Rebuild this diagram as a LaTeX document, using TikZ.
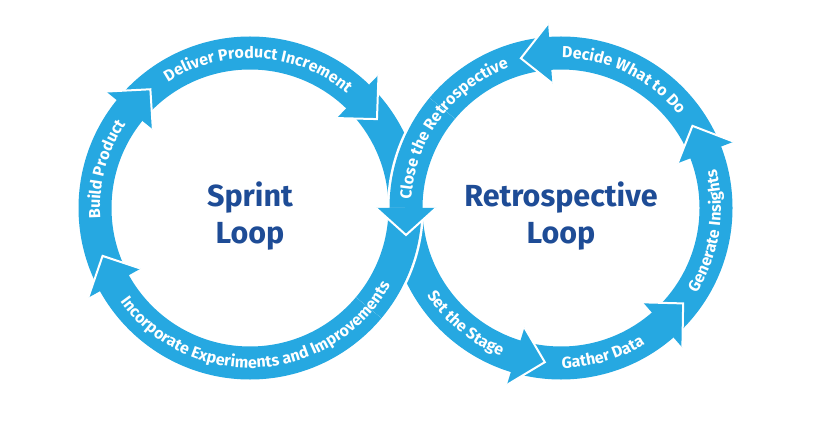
\documentclass[tikz,border=0pt]{standalone}
\usepackage{fontspec}
\setmainfont{Fira Sans}
\usetikzlibrary{decorations.text}
\definecolor{bandblue}{RGB}{38,168,225}
\definecolor{darkblue}{RGB}{30,76,150}
\newcommand\bandtext{\color{white}\bfseries\fontsize{16}{16}\selectfont}
\newcommand\myhead[2]{%
  \fill[bandblue] (#1:125) -- (#2:155) -- (#1:185) -- cycle;
  \draw[headedge] (#1:125) -- (#2:155) -- (#1:185);}
\begin{document}
\begin{tikzpicture}[x=1pt,y=1pt,
  band/.style={draw=bandblue, line width=33pt, line cap=butt},
  gapband/.style={draw=white, line width=38pt, line cap=butt},
  headedge/.style={draw=white, line width=2pt, line join=miter},
  looplabel/.style={text=darkblue, font=\bfseries\fontsize{30.5}{37}\selectfont, align=center, inner sep=0pt}]
\useasboundingbox (0,0) rectangle (826,442);
\fill[white] (0,0) rectangle (826,442);
% full rings
\begin{scope}[shift={(250,234)}]
  \draw[band] (0:155) arc[start angle=0, end angle=360, radius=155];
\end{scope}
\begin{scope}[shift={(561,234)}]
  \draw[band] (0:155) arc[start angle=0, end angle=360, radius=155];
\end{scope}
% over path at the crossing
\begin{scope}[shift={(561,234)}]
  \draw[gapband] (140:155) arc[start angle=140, end angle=180, radius=155];
  \draw[band] (140:155) arc[start angle=140, end angle=180, radius=155];
\end{scope}
\begin{scope}[shift={(250,234)}]
  \draw[gapband] (0:155) arc[start angle=0, end angle=-40, radius=155];
  \draw[band] (0:155) arc[start angle=0, end angle=-40, radius=155];
\end{scope}
% arrowheads, left loop (clockwise)
\begin{scope}[shift={(250,234)}]
  \myhead{209}{198}
  \myhead{141}{130}
  \myhead{46}{35}
\end{scope}
% arrowheads, right loop (counter-clockwise)
\begin{scope}[shift={(561,234)}]
  \myhead{253}{264}
  \myhead{311}{322}
  \myhead{21}{32}
  \myhead{94}{105}
  \fill[bandblue] (180:125) -- (-155,-27) -- (180:185) -- cycle;
  \draw[headedge] (180:125) -- (-155,-27) -- (180:185);
\end{scope}
% band labels, left loop
\begin{scope}[shift={(250,234)}]
  \path[decorate, decoration={text along path, text align=center, text={|\bandtext|Build Product}}]
    (195:150) arc[start angle=195, end angle=135, radius=150];
  \path[decorate, decoration={text along path, text align=center, text={|\bandtext|Deliver Product Increment}}]
    (130:150) arc[start angle=130, end angle=43, radius=150];
  \path[decorate, decoration={text along path, text align=center, text={|\bandtext|Incorporate Experiments and Improvements}}]
    (205:160) arc[start angle=205, end angle=342, radius=160];
\end{scope}
% band labels, right loop
\begin{scope}[shift={(561,234)}]
  \path[decorate, decoration={text along path, text align=center, text={|\bandtext|Close the Retrospective}}]
    (178:150) arc[start angle=178, end angle=109, radius=150];
  \path[decorate, decoration={text along path, text align=center, text={|\bandtext|Decide What to Do}}]
    (92:150) arc[start angle=92, end angle=36, radius=150];
  \path[decorate, decoration={text along path, text align=center, text={|\bandtext|Generate Insights}}]
    (-40:160) arc[start angle=-40, end angle=22, radius=160];
  \path[decorate, decoration={text along path, text align=center, text={|\bandtext|Gather Data}}]
    (262:160) arc[start angle=262, end angle=310, radius=160];
  \path[decorate, decoration={text along path, text align=center, text={|\bandtext|Set the Stage}}]
    (208:160) arc[start angle=208, end angle=253, radius=160];
\end{scope}
% centre labels
\node[looplabel] (sprint) at (250,226) {Sprint\\Loop};
\node[looplabel] (retro) at (561,226) {Retrospective\\Loop};
\end{tikzpicture}
\end{document}
